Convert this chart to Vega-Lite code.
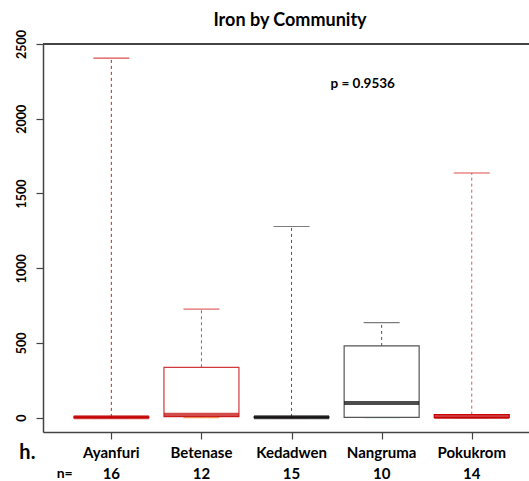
{
  "$schema": "https://vega.github.io/schema/vega-lite/v6.json",
  "width": 486,
  "height": 388,
  "autosize": {"type": "none"},
  "padding": {"left": 43, "top": 44, "right": 0, "bottom": 49},
  "title": {
    "text": "Iron by Community",
    "anchor": "middle",
    "font": "Lato",
    "fontSize": 18,
    "fontWeight": "bold",
    "color": "#000",
    "offset": 0,
    "dx": 4
  },
  "config": {
    "view": {"stroke": null},
    "font": "Lato",
    "axis": {
      "grid": false,
      "title": null,
      "domainColor": "#444",
      "domainWidth": 1.5,
      "tickColor": "#444",
      "tickWidth": 1.2,
      "tickSize": 7,
      "labelFont": "Lato",
      "labelFontWeight": "bold",
      "labelColor": "#000"
    }
  },
  "data": {
    "values": [
      {"community": "Ayanfuri", "group": 1, "n": 16, "lo": 0, "q1": 0, "med": 2, "q3": 5, "hi": 2406},
      {"community": "Betenase", "group": 2, "n": 12, "lo": 0, "q1": 7, "med": 20, "q3": 337, "hi": 726},
      {"community": "Kedadwen", "group": 3, "n": 15, "lo": 0, "q1": 0, "med": 2, "q3": 5, "hi": 1279},
      {"community": "Nangruma", "group": 4, "n": 10, "lo": 0, "q1": 2, "med": 98, "q3": 480, "hi": 636},
      {"community": "Pokukrom", "group": 5, "n": 14, "lo": 0, "q1": 2, "med": 5, "q3": 20, "hi": 1637}
    ]
  },
  "encoding": {
    "x": {
      "field": "group",
      "type": "quantitative",
      "scale": {"domain": [0.297, 5.58], "nice": false, "zero": false},
      "axis": {"values": [1, 2, 3, 4, 5], "labels": false}
    }
  },
  "layer": [
    {
      "mark": {"type": "rule", "strokeDash": [3, 3], "strokeWidth": 1},
      "encoding": {
        "y": {
          "field": "q3",
          "type": "quantitative",
          "scale": {"domain": [-96, 2500], "nice": false, "zero": false},
          "axis": {"values": [0, 500, 1000, 1500, 2000, 2500], "format": "d", "labelAngle": 270, "labelAlign": "center", "labelBaseline": "bottom", "labelFontSize": 12.5, "labelPadding": 8}
        },
        "y2": {"field": "hi"},
        "color": {
          "field": "community",
          "type": "nominal",
          "legend": null,
          "scale": {"domain": ["Ayanfuri", "Betenase", "Kedadwen", "Nangruma", "Pokukrom"], "range": ["#c81e1e", "#d84848", "#555555", "#555555", "#dc5a5a"]}
        }
      }
    },
    {
      "mark": {"type": "rule", "strokeDash": [3, 3], "strokeWidth": 1},
      "encoding": {
        "y": {"field": "lo", "type": "quantitative"},
        "y2": {"field": "q1"},
        "color": {"field": "community", "type": "nominal", "legend": null}
      }
    },
    {
      "mark": {"type": "tick", "orient": "horizontal", "size": 36, "thickness": 1.2},
      "encoding": {
        "y": {"field": "hi", "type": "quantitative"},
        "color": {
          "field": "community",
          "type": "nominal",
          "legend": null,
          "scale": {"domain": ["Ayanfuri", "Betenase", "Kedadwen", "Nangruma", "Pokukrom"], "range": ["#cc0000", "#d22a2a", "#444444", "#444444", "#cc0000"]}
        }
      }
    },
    {
      "mark": {"type": "tick", "orient": "horizontal", "size": 36, "thickness": 1.2},
      "encoding": {
        "y": {"field": "lo", "type": "quantitative"},
        "color": {"field": "community", "type": "nominal", "legend": null}
      }
    },
    {
      "mark": {"type": "bar", "size": 75, "fill": "white", "strokeWidth": 1.2},
      "encoding": {
        "y": {"field": "q1", "type": "quantitative"},
        "y2": {"field": "q3"},
        "stroke": {
          "field": "community",
          "type": "nominal",
          "legend": null,
          "scale": {"domain": ["Ayanfuri", "Betenase", "Kedadwen", "Nangruma", "Pokukrom"], "range": ["#cc0000", "#d03a3a", "#444444", "#555555", "#cc0000"]}
        }
      }
    },
    {
      "mark": {"type": "tick", "orient": "horizontal", "size": 75, "thickness": 4},
      "encoding": {
        "y": {"field": "med", "type": "quantitative"},
        "color": {
          "field": "community",
          "type": "nominal",
          "legend": null,
          "scale": {"domain": ["Ayanfuri", "Betenase", "Kedadwen", "Nangruma", "Pokukrom"], "range": ["#c00000", "#c00000", "#000000", "#000000", "#c00000"]}
        }
      }
    },
    {
      "mark": {"type": "rule", "color": "#444", "strokeWidth": 1.5},
      "encoding": {"y": {"datum": 2500}, "x": {"value": 0}, "x2": {"value": 486}}
    },
    {
      "mark": {"type": "text", "font": "Lato", "fontWeight": "bold", "fontSize": 15, "baseline": "middle", "color": "#000"},
      "encoding": {"y": {"datum": -238}, "text": {"field": "community"}}
    },
    {
      "mark": {"type": "text", "font": "Lato", "fontWeight": "bold", "fontSize": 15, "baseline": "middle", "color": "#000"},
      "encoding": {"y": {"datum": -377}, "text": {"field": "n"}}
    },
    {
      "data": {"values": [{"note": "h.", "at": 0.068, "level": -236}]},
      "mark": {"type": "text", "font": "Lato", "fontWeight": "bold", "fontSize": 20, "baseline": "middle", "color": "#000"},
      "encoding": {"x": {"field": "at", "type": "quantitative"}, "y": {"field": "level", "type": "quantitative"}, "text": {"field": "note"}}
    },
    {
      "data": {"values": [{"note": "n=", "at": 0.482, "level": -377}]},
      "mark": {"type": "text", "font": "Lato", "fontWeight": "bold", "fontSize": 14, "baseline": "middle", "color": "#000"},
      "encoding": {"x": {"field": "at", "type": "quantitative"}, "y": {"field": "level", "type": "quantitative"}, "text": {"field": "note"}}
    },
    {
      "data": {"values": [{"note": "p = 0.9536", "at": 3.79, "level": 2232}]},
      "mark": {"type": "text", "font": "Lato", "fontWeight": "bold", "fontSize": 13.5, "baseline": "middle", "color": "#000"},
      "encoding": {"x": {"field": "at", "type": "quantitative"}, "y": {"field": "level", "type": "quantitative"}, "text": {"field": "note"}}
    }
  ],
  "resolve": {"scale": {"color": "independent", "stroke": "independent"}}
}
